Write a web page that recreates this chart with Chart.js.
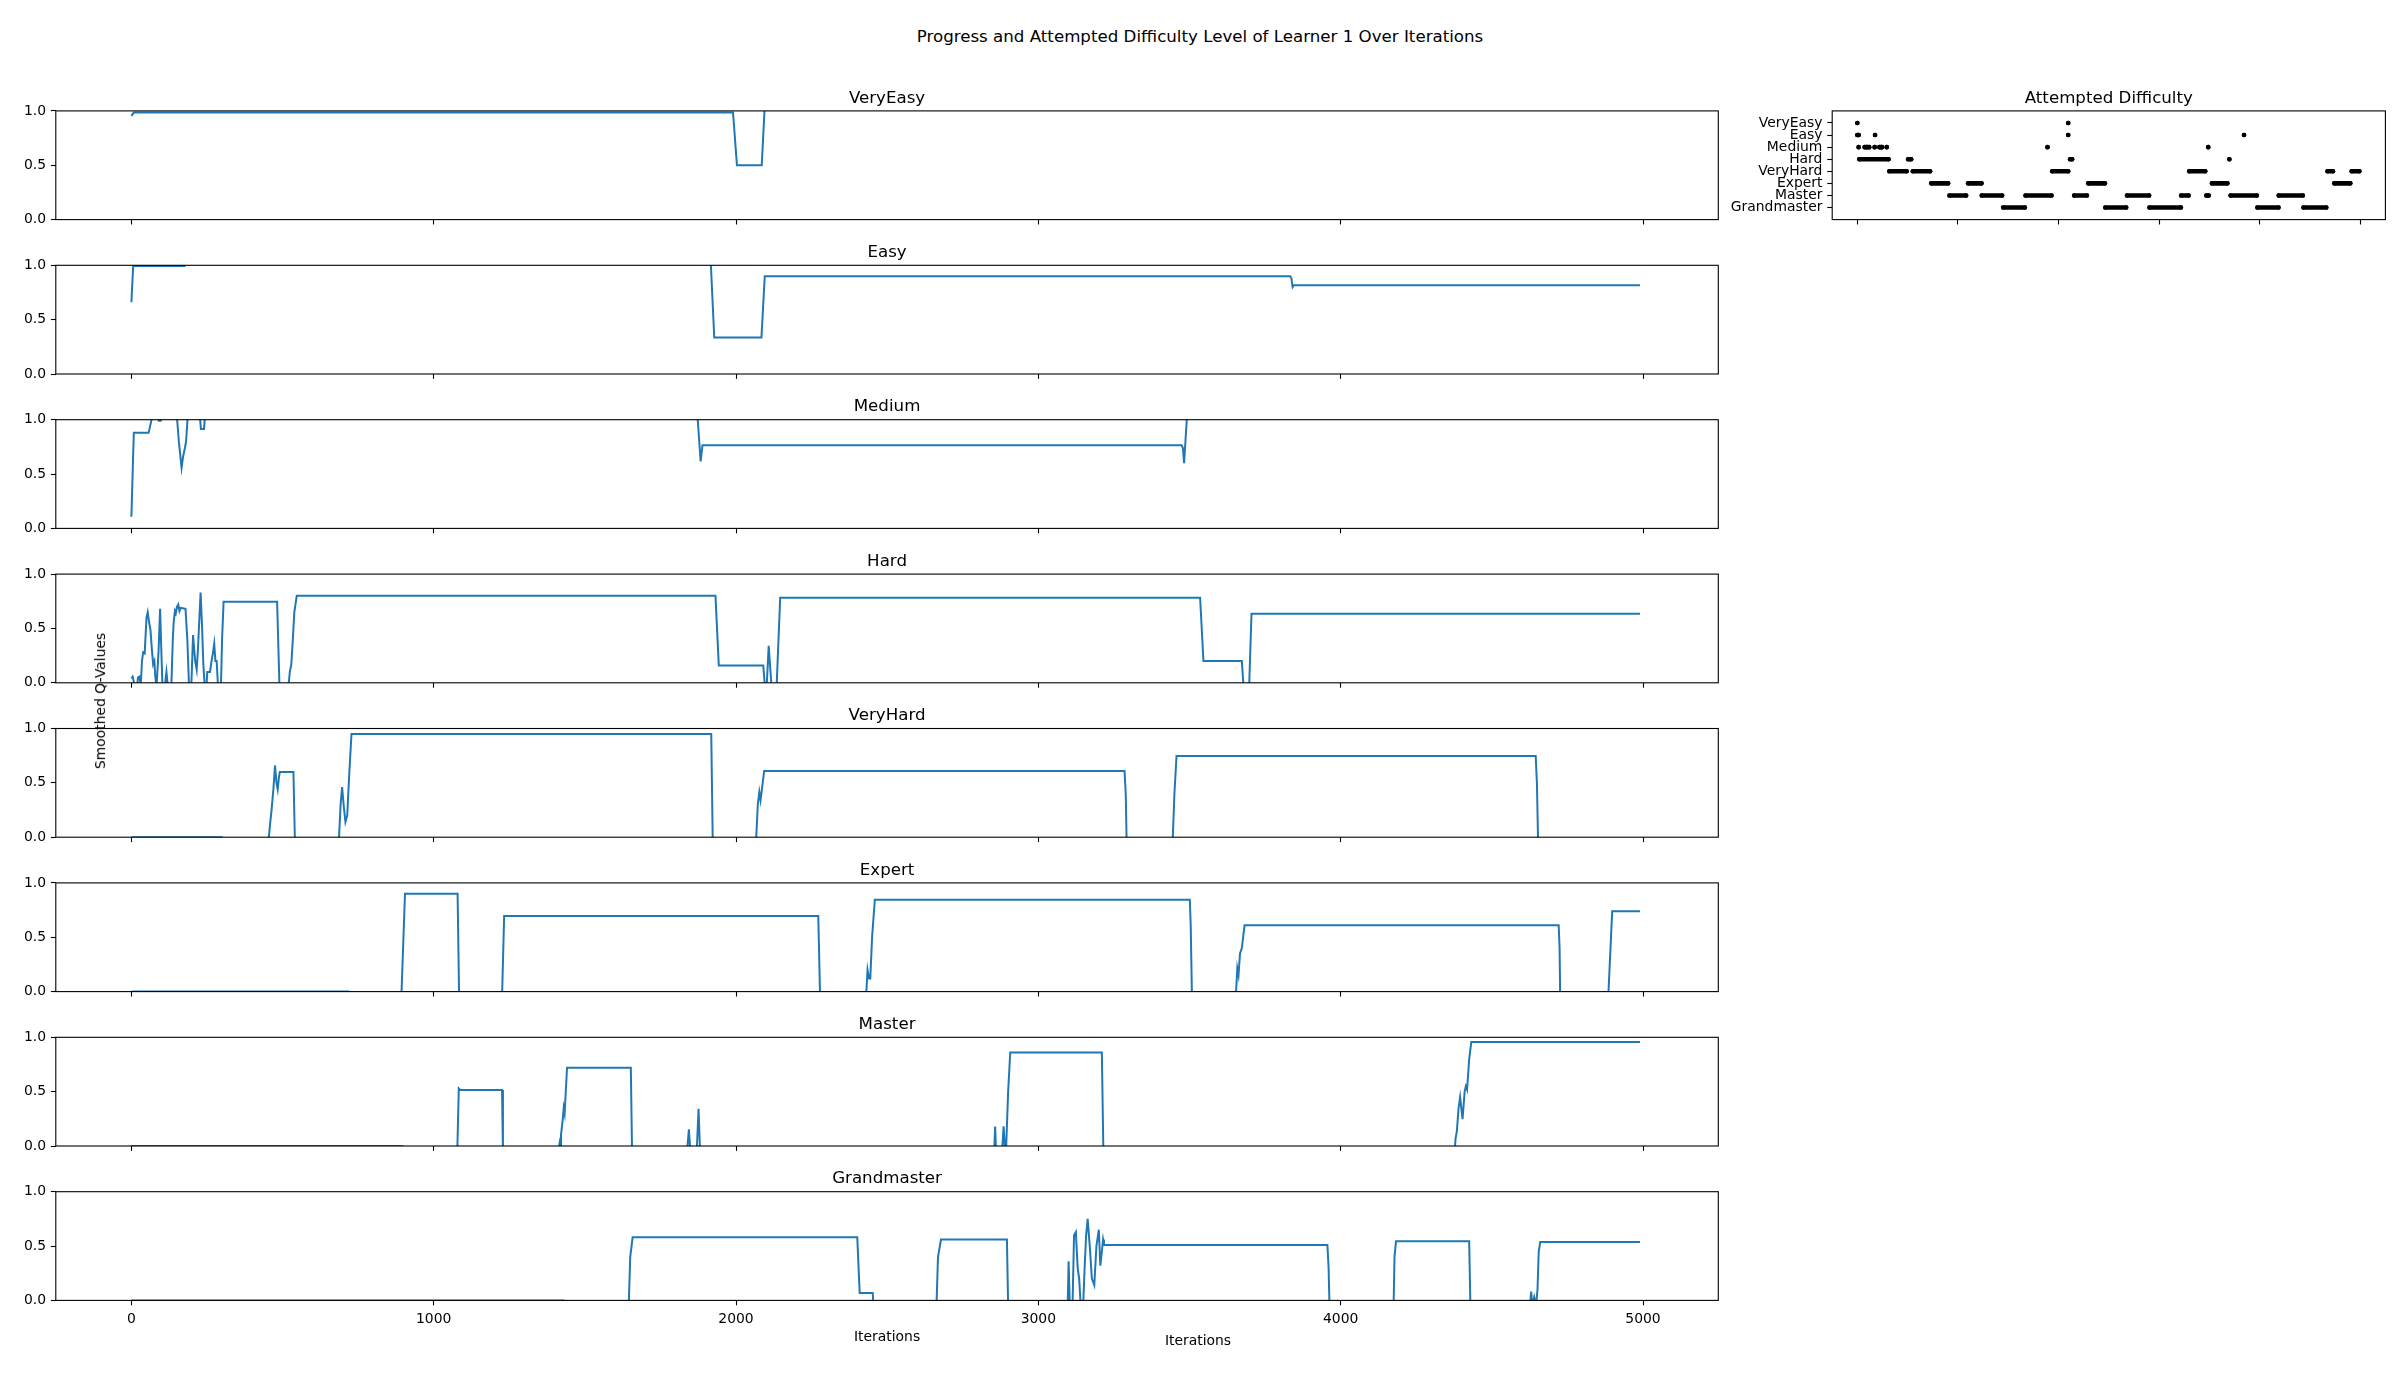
<!DOCTYPE html>
<html><head><meta charset="utf-8">
<script src="https://cdn.jsdelivr.net/npm/chart.js@4.4.1/dist/chart.umd.min.js"></script>
<style>
body{margin:0;background:#fff;width:2400px;height:1400px;position:relative;overflow:hidden;font-family:"DejaVu Sans";}
canvas{position:absolute;}
.txt{position:absolute;color:#000;white-space:nowrap;line-height:1;z-index:10;font-family:"DejaVu Sans";}
</style></head><body>
<script>
// ---------------- DATA ----------------
const difficultyLevels = ['VeryEasy','Easy','Medium','Hard','VeryHard','Expert','Master','Grandmaster'];
const xTicks = [0,1000,2000,3000,4000,5000];
const qTicks = [0,0.5,1];

// smoothed Q-values, [iteration, value]  (values outside 0..1 are clipped by the axes)
const qVeryEasy = [[0,0.955],[8,0.985],[1990,0.985],[2003,0.5],[2085,0.5],[2095,1.05],[4990,1.05]];
const qEasy = [[0,0.66],[6,0.993],[176,0.993],[186,1.05],[1916,1.05],[1928,0.335],[2084,0.335],[2095,0.9],[3833,0.9],[3837,0.88],[3841,0.80],[3845,0.817],[4990,0.817]];
const qMedium = [[0,0.107],[8,0.879],[57,0.879],[69,1.03],[86,1.01],[91,0.99],[97,0.99],[102,1.02],[150,1.05],[157,0.8],[166,0.557],[171,0.66],[177,0.74],[181,0.8],[186,1.02],[226,1.05],[230,0.914],[240,0.914],[244,1.05],[1872,1.05],[1883,0.616],[1889,0.765],[3474,0.765],[3478,0.74],[3482,0.60],[3492,1.05],[4990,1.05]];
const qHard = [[0,0.04],[4,0.057],[9,0.0],[12,-0.05],[18,-0.05],[22,0.05],[27,0.057],[31,-0.03],[35,0.2],[39,0.28],[44,0.27],[50,0.6],[54,0.65],[59,0.55],[63,0.49],[68,0.3],[72,0.17],[76,0.2],[79,0.06],[83,-0.05],[90,0.3],[95,0.68],[99,0.3],[103,-0.05],[111,-0.02],[116,0.1],[121,-0.05],[132,-0.05],[137,0.4],[140,0.56],[144,0.66],[147,0.64],[151,0.7],[155,0.72],[159,0.66],[163,0.69],[179,0.68],[185,0.4],[191,-0.05],[198,-0.05],[204,0.44],[208,0.3],[211,0.2],[216,0.12],[220,0.3],[225,0.6],[229,0.83],[234,0.5],[238,0.17],[243,-0.05],[248,-0.05],[251,0.1],[260,0.1],[265,0.2],[269,0.26],[274,0.36],[278,0.2],[282,0.2],[287,-0.05],[296,-0.05],[300,0.4],[305,0.745],[482,0.745],[490,-0.05],[519,-0.05],[524,0.1],[529,0.17],[534,0.4],[539,0.65],[547,0.8],[1932,0.80],[1943,0.16],[2090,0.16],[2096,-0.05],[2101,-0.05],[2108,0.34],[2114,0.1],[2118,-0.05],[2134,-0.05],[2146,0.783],[3535,0.783],[3546,0.2],[3673,0.2],[3679,-0.05],[3697,-0.05],[3705,0.635],[4990,0.635]];
const qVeryHard = [[0,0],[299,0],[302,-0.05],[453,-0.05],[458,0.1],[464,0.26],[470,0.45],[475,0.66],[480,0.5],[484,0.44],[488,0.55],[491,0.6],[536,0.6],[541,-0.05],[686,-0.05],[692,0.3],[697,0.46],[702,0.3],[708,0.14],[714,0.2],[720,0.55],[728,0.95],[1918,0.95],[1923,-0.05],[2066,-0.05],[2072,0.3],[2077,0.415],[2081,0.34],[2086,0.45],[2093,0.61],[3285,0.61],[3289,0.4],[3292,-0.05],[3444,-0.05],[3450,0.4],[3457,0.748],[4645,0.748],[4649,0.5],[4653,-0.05],[4990,-0.05]];
const qExpert = [[0,0],[719,0],[722,-0.05],[893,-0.05],[905,0.9],[1079,0.9],[1084,-0.05],[1226,-0.05],[1233,0.696],[2272,0.696],[2278,-0.05],[2430,-0.05],[2435,0.2],[2440,0.12],[2444,0.12],[2450,0.5],[2459,0.846],[3501,0.846],[3504,0.6],[3508,-0.05],[3653,-0.05],[3658,0.214],[3662,0.15],[3667,0.35],[3673,0.4],[3682,0.61],[4721,0.61],[4724,0.4],[4726,-0.05],[4885,-0.05],[4898,0.74],[4990,0.74]];
const qMaster = [[0,0],[896,0],[899,-0.05],[1078,-0.05],[1083,0.53],[1088,0.515],[1226,0.515],[1229,-0.05],[1412,-0.05],[1416,0.02],[1419,-0.05],[1421,0.1],[1427,0.25],[1430,0.35],[1433,0.3],[1441,0.72],[1652,0.72],[1656,-0.05],[1838,-0.05],[1844,0.154],[1849,-0.05],[1870,-0.05],[1876,0.343],[1881,-0.05],[2854,-0.05],[2857,0.178],[2860,-0.05],[2880,-0.05],[2885,0.18],[2890,-0.05],[2893,-0.05],[2900,0.5],[2907,0.86],[3210,0.86],[3215,-0.05],[4377,-0.05],[4380,0.07],[4384,0.13],[4390,0.35],[4395,0.45],[4403,0.246],[4410,0.5],[4414,0.55],[4418,0.52],[4425,0.8],[4432,0.957],[4990,0.957]];
const qGrandmaster = [[0,0],[1430,0],[1433,-0.05],[1645,-0.05],[1650,0.4],[1658,0.58],[2401,0.58],[2409,0.068],[2452,0.068],[2455,-0.05],[2663,-0.05],[2668,0.4],[2678,0.56],[2896,0.56],[2900,-0.05],[3097,-0.05],[3100,0.36],[3104,-0.05],[3113,-0.05],[3118,0.6],[3124,0.63],[3130,0.3],[3135,0.2],[3140,-0.05],[3148,-0.05],[3153,0.3],[3158,0.6],[3163,0.75],[3170,0.5],[3177,0.2],[3185,0.14],[3192,0.5],[3200,0.65],[3205,0.32],[3210,0.45],[3214,0.56],[3217,0.51],[3956,0.51],[3960,0.3],[3963,-0.05],[4175,-0.05],[4178,0.4],[4183,0.545],[4425,0.545],[4429,-0.05],[4626,-0.05],[4630,0.08],[4634,-0.05],[4640,0.03],[4646,-0.05],[4651,0.1],[4655,0.45],[4660,0.537],[4990,0.537]];

// attempted difficulty: iteration ranges [start, end] for each level
const attemptsVeryEasy = [[0,0],[2096,2096]];
const attemptsEasy = [[0,13],[176,176],[2096,2096],[3844,3844]];
const attemptsMedium = [[13,13],[73,73],[88,103],[118,118],[172,172],[219,219],[235,245],[292,292],[1890,1890],[3488,3488]];
const attemptsHard = [[20,310],[505,535],[2115,2135],[3698,3698]];
const attemptsVeryHard = [[318,490],[551,723],[1937,2096],[3299,3458],[4674,4728],[4914,4990]];
const attemptsExpert = [[735,902],[1101,1234],[2295,2461],[3525,3678],[4741,4900]];
const attemptsMaster = [[916,1081],[1237,1439],[1672,1930],[2156,2282],[2681,2900],[3219,3292],[3469,3492],[3711,3970],[4189,4428]];
const attemptsGrandmaster = [[1450,1665],[2465,2672],[2904,3216],[3977,4186],[4435,4661]];

// ---------------- CHARTS ----------------
const qSeries = [qVeryEasy,qEasy,qMedium,qHard,qVeryHard,qExpert,qMaster,qGrandmaster];
const attemptRows = [attemptsVeryEasy,attemptsEasy,attemptsMedium,attemptsHard,attemptsVeryHard,attemptsExpert,attemptsMaster,attemptsGrandmaster];

Chart.defaults.font.family = '"DejaVu Sans"';
Chart.defaults.font.size = 13.9;
Chart.defaults.color = '#000';

const framePlugin = {
  id: 'frame',
  afterDraw(chart, args, opts) {
    const ctx = chart.ctx, a = chart.chartArea;
    ctx.save();
    ctx.strokeStyle = '#000';
    ctx.lineWidth = 1.1;
    ctx.strokeRect(a.left, a.top, a.right - a.left, a.bottom - a.top);
    ctx.fillStyle = '#000';
    if (opts.title) {
      ctx.font = '16.67px "DejaVu Sans"';
      ctx.textAlign = 'center';
      ctx.textBaseline = 'alphabetic';
      ctx.fillText(opts.title, (a.left + a.right) / 2, a.top - 8.3);
    }
    if (opts.xlabel) {
      ctx.font = '13.9px "DejaVu Sans"';
      ctx.textAlign = 'center';
      ctx.textBaseline = 'middle';
      ctx.fillText(opts.xlabel, (a.left + a.right) / 2, a.bottom + 36.5);
    }
    ctx.restore();
  }
};
Chart.register(framePlugin);

const tickGrid = {display:true, drawOnChartArea:false, drawTicks:true, tickLength:4.9, tickWidth:1.1, tickColor:'#000'};

const AX_L = 55.8, AX_R = 1718.3, AX_H = 108.7, TOP0 = 110.9, PITCH = 154.4, CW = 1740;

function addCanvas(left, top, w, h) {
  const cv = document.createElement('canvas');
  cv.width = w; cv.height = h;
  cv.style.left = left + 'px'; cv.style.top = top + 'px';
  cv.style.width = w + 'px'; cv.style.height = h + 'px';
  document.body.appendChild(cv);
  return cv;
}

qSeries.forEach((series, i) => {
  const T = TOP0 + i * PITCH;
  const last = i === qSeries.length - 1;
  const cTop = Math.floor(T) - 40;
  const padTop = T - cTop;
  const H = last ? 220 : 170;
  const xH = H - padTop - AX_H;
  const cv = addCanvas(0, cTop, CW, H);
  new Chart(cv, {
    type: 'line',
    data: {datasets: [{
      data: series.map(p => ({x: p[0], y: p[1]})),
      borderColor: '#1f77b4', borderWidth: 2, pointRadius: 0, tension: 0, fill: false
    }]},
    options: {
      responsive: false, animation: false, events: [],
      layout: {padding: {top: padTop, left: 0, right: CW - AX_R, bottom: 0}},
      plugins: {legend: {display: false}, tooltip: {enabled: false},
        frame: {title: difficultyLevels[i], xlabel: last ? 'Iterations' : null}},
      scales: {
        x: {type: 'linear', min: -250, max: 5249,
          afterBuildTicks: s => { s.ticks = xTicks.map(v => ({value: v})); },
          afterFit: s => { s.height = xH; },
          grid: tickGrid, border: {display: false},
          ticks: {autoSkip: false, maxRotation: 0, padding: 5.5, callback: v => last ? String(v) : ''}},
        y: {type: 'linear', min: 0, max: 1,
          afterBuildTicks: s => { s.ticks = qTicks.map(v => ({value: v})); },
          afterFit: s => { s.width = AX_L; },
          grid: tickGrid, border: {display: false},
          ticks: {padding: 4.9, callback: v => Number(v).toFixed(1)}}
      }
    }
  });
});

// Attempted difficulty panel
(function () {
  const L = 1832.2, R = 2385.4, T = TOP0;
  const cLeft = 1700, cW = 700;
  const cTop = Math.floor(T) - 40;
  const padTop = T - cTop;
  const H = 170;
  const xH = H - padTop - AX_H;
  const cv = addCanvas(cLeft, cTop, cW, H);
  const datasets = attemptRows.map((ranges, r) => {
    const yv = difficultyLevels.length - 1 - r;
    const pts = [];
    ranges.forEach(([s, e]) => {
      pts.push({x: s, y: yv});
      if (e !== s) pts.push({x: e, y: yv});
      pts.push({x: e + 1, y: null});
    });
    return {data: pts, showLine: true, spanGaps: false, borderColor: '#000', backgroundColor: '#000',
      borderWidth: 4.6, borderCapStyle: 'round', pointRadius: 2.3, pointBorderWidth: 0,
      pointBackgroundColor: '#000', tension: 0};
  });
  new Chart(cv, {
    type: 'line',
    data: {datasets},
    options: {
      responsive: false, animation: false, events: [],
      layout: {padding: {top: padTop, left: 0, right: cW - (R - cLeft), bottom: 0}},
      plugins: {legend: {display: false}, tooltip: {enabled: false}, frame: {title: 'Attempted Difficulty'}},
      scales: {
        x: {type: 'linear', min: -250, max: 5249,
          afterBuildTicks: s => { s.ticks = xTicks.map(v => ({value: v})); },
          afterFit: s => { s.height = xH; },
          grid: tickGrid, border: {display: false},
          ticks: {autoSkip: false, maxRotation: 0, callback: () => ''}},
        y: {type: 'linear', min: -1, max: 8,
          afterBuildTicks: s => { s.ticks = difficultyLevels.map((_, k) => ({value: k})); },
          afterFit: s => { s.width = L - cLeft; },
          grid: tickGrid, border: {display: false},
          ticks: {autoSkip: false, padding: 4.9, callback: v => difficultyLevels[difficultyLevels.length - 1 - v]}}
      }
    }
  });
})();

// figure-level texts
function addText(str, cx, cy, size, rotate) {
  const d = document.createElement('div');
  d.className = 'txt';
  d.textContent = str;
  d.style.fontSize = size + 'px';
  d.style.left = cx + 'px';
  d.style.top = cy + 'px';
  d.style.transform = 'translate(-50%,-50%)' + (rotate ? ' rotate(-90deg)' : '');
  document.body.appendChild(d);
}
addText('Progress and Attempted Difficulty Level of Learner 1 Over Iterations', 1200, 36.5, 16.67, false);
addText('Smoothed Q-Values', 101, 701, 13.9, true);
addText('Iterations', 1198, 1341, 13.9, false);
</script>
</body></html>
